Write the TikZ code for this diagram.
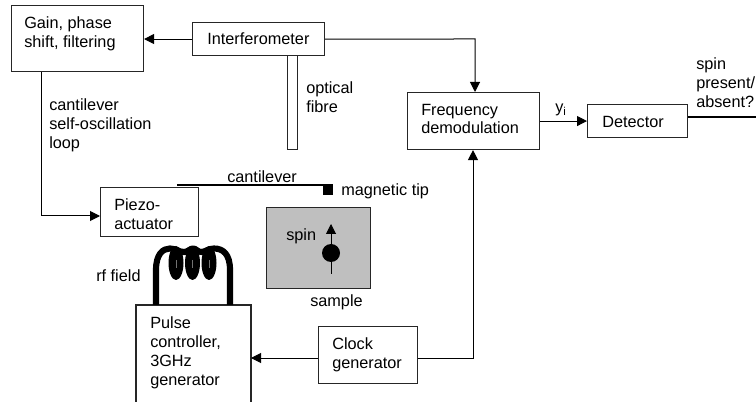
\documentclass[tikz,border=0pt]{standalone}
\usepackage{fontspec}
\setmainfont{Liberation Sans}
\usetikzlibrary{arrows.meta}
\tikzset{
  x=0.75pt,y=-0.75pt,
  boxed/.style={draw=black!85,line width=0.8pt,fill=white,inner sep=0pt,anchor=north west},
  lbl/.style={inner sep=0pt,align=left,anchor=west,font=\fontsize{12.2}{14.2}\selectfont},
  conn/.style={line width=0.75pt,-{Triangle[length=7.5pt,width=7.5pt]}},
  plain/.style={line width=0.75pt},
}
\begin{document}
\begin{tikzpicture}
\useasboundingbox (0,0) rectangle (756,402);
\fill[white] (0,0) rectangle (756,402);
% boxes
\node[boxed,minimum width=99pt,minimum height=49.5pt] (gain) at (11,5) {};
\node[boxed,minimum width=99pt,minimum height=24.75pt] (inter) at (192,22) {};
\node[boxed,minimum width=7.5pt,minimum height=70.5pt] (fibre) at (287,55) {};
\node[boxed,minimum width=99pt,minimum height=42.75pt] (freq) at (407,92) {};
\node[boxed,minimum width=75pt,minimum height=24.75pt] (det) at (587,104) {};
\node[boxed,minimum width=73.5pt,minimum height=36.75pt] (piezo) at (100,187) {};
\node[boxed,minimum width=74.25pt,minimum height=42.75pt] (clock) at (318,326) {};
\node[boxed,fill=black!25,minimum width=78pt,minimum height=60.75pt] (sample) at (266,207) {};
% pulse box, open at the bottom where the picture is cut
\draw[line width=0.8pt,draw=black!85] (136,403) -- (136,305) -- (251,305) -- (251,403);
\coordinate (pulseR) at (251,358);
% coil
\foreach \cx in {176,192.5,209}{
  \fill (\cx,263) ellipse (7.5 and 17);
  \draw[black!55,line width=0.6pt] (\cx,260) -- (\cx,268);
}
\draw[line width=4.6pt,line join=round] (156,305) -- (156,270) .. controls (156,254) and (163,248.5) .. (170,248.5)
  .. controls (175,248.5) and (179,252) .. (184,252) .. controls (188,252) and (190,248.5) .. (193,248.5)
  .. controls (196,248.5) and (198,252) .. (201,252) .. controls (205,252) and (209,248.5) .. (214,248.5)
  .. controls (223,248.5) and (230,254) .. (230,270) -- (230,305);
% connectors
\coordinate (outEnd) at (756,117);
\coordinate (cornerA) at (475,39);
\coordinate (cornerB) at (473,358);
\coordinate (cornerC) at (41,216);
\draw[conn] (inter.west) -- (gain.east |- inter.west);
\draw[conn] (inter.east) -- (cornerA) -- (cornerA |- freq.north);
\draw[conn] (freq.east |- det.west) -- (det.west);
\draw[plain,line width=1pt] (det.east |- outEnd) -- (outEnd);
\draw[conn] (gain.south -| cornerC) -- (cornerC) -- (cornerC -| piezo.west);
\draw[conn] (clock.west |- pulseR) -- (pulseR);
\draw[conn] (clock.east |- cornerB) -- (cornerB) -- (cornerB |- freq.south);
% cantilever
\coordinate (cantL) at (177,185);
\coordinate (cantR) at (333,185);
\draw[line width=1.6pt] (cantL) -- (cantR);
\node[fill=black,inner sep=0pt,minimum size=7.5pt,anchor=north east] (tip) at (333,185) {};
% spin
\node[circle,fill=black,inner sep=0pt,minimum size=13.5pt] (spin) at (331,253) {};
\coordinate (spinB) at (331,274);
\coordinate (spinT) at (331,224);
\draw[conn] (spinB) -- (spinT);
% labels
\node[lbl] (t1) at (24,33.5) {Gain, phase\\shift, filtering};
\node[lbl] (t2) at (207,39) {Interferometer};
\node[lbl] (t3) at (306,97) {optical\\fibre};
\node[lbl] (t4) at (49,125) {cantilever\\self-oscillation\\loop};
\node[lbl] (t5) at (227,177) {cantilever};
\node[lbl] (t6) at (341,191) {magnetic tip};
\node[lbl] (t7) at (421,119) {Frequency\\demodulation};
\node[lbl] (t8) at (555,110) {y\textsubscript{i}};
\node[lbl] (t9) at (602,122) {Detector};
\node[lbl] (t10) at (696,82.5) {spin\\present/\\absent?};
\node[lbl] (t11) at (114,214) {Piezo-\\actuator};
\node[lbl] (t12) at (286,236) {spin};
\node[lbl] (t13) at (310,302) {sample};
\node[lbl] (t14) at (96,276) {rf field};
\node[lbl] (t15) at (150,352.5) {Pulse\\controller,\\3GHz\\generator};
\node[lbl] (t16) at (332,354.5) {Clock\\generator};
\end{tikzpicture}
\end{document}
